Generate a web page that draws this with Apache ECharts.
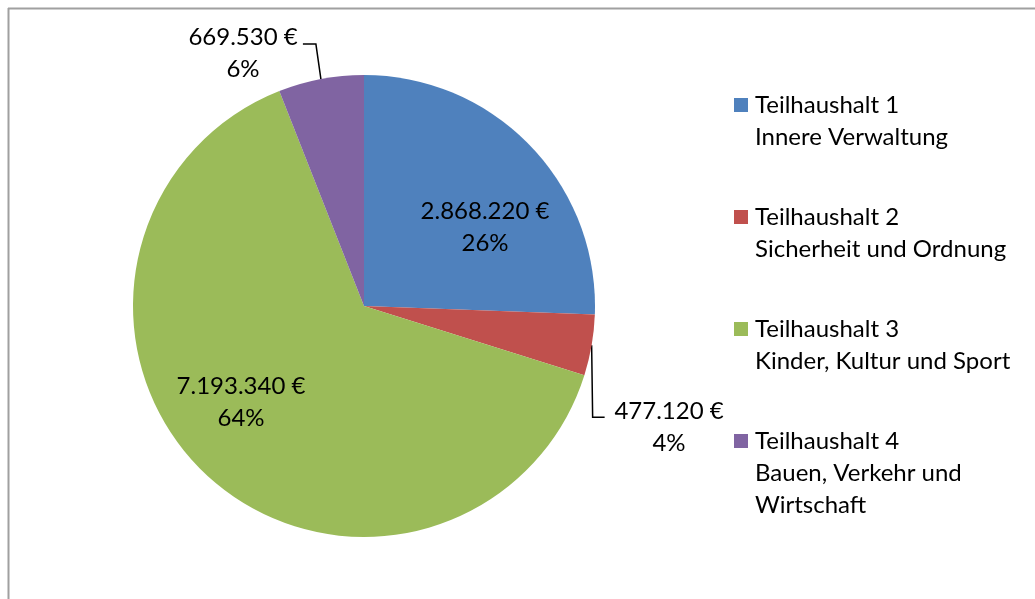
<!DOCTYPE html>
<html>
<head>
<meta charset="utf-8">
<script src="https://cdn.jsdelivr.net/npm/echarts@6/dist/echarts.min.js"></script>
<style>
html,body{margin:0;padding:0;background:#fff;}
#c{width:1035px;height:599px;}
</style>
</head>
<body>
<div id="c"></div>
<script>
const categories = ['Teilhaushalt 1', 'Teilhaushalt 2', 'Teilhaushalt 3', 'Teilhaushalt 4'];
const subtitles = [['Innere Verwaltung'], ['Sicherheit und Ordnung'], ['Kinder, Kultur und Sport'], ['Bauen, Verkehr und', 'Wirtschaft']];
const values = [2868220, 477120, 7193340, 669530];
const colors = ['#4F81BD', '#C0504D', '#9BBB59', '#8064A2'];

const FONT = 'Lato';
const FS = 24;

function fmtEuro(v) {
  return String(v).replace(/\B(?=(\d{3})+(?!\d))/g, '.') + ' €';
}

// label placement (centers of label blocks)
const labelPos = [[485, 227], [669, 427], [241, 402], [243, 53]];
const outside = [false, true, false, true];

const rich = {
  t: { fontFamily: FONT, fontSize: FS, color: '#000', lineHeight: 32 },
  ind: { width: 21, height: 14 },
  gap: { width: 7, height: 14 }
};
colors.forEach((c, i) => { rich['sq' + i] = { width: 14, height: 14, backgroundColor: c }; });

const chart = echarts.init(document.getElementById('c'), null, { renderer: 'canvas' });
chart.setOption({
  animation: false,
  backgroundColor: '#fff',
  color: colors,
  graphic: [
    { type: 'line', shape: { x1: 8, y1: 8.5, x2: 1035, y2: 8.5 }, style: { stroke: '#a0a0a0', lineWidth: 2 }, silent: true },
    { type: 'line', shape: { x1: 8.5, y1: 8, x2: 8.5, y2: 599 }, style: { stroke: '#a0a0a0', lineWidth: 2 }, silent: true }
  ],
  legend: {
    orient: 'vertical',
    left: 724,
    top: 84,
    icon: 'none',
    itemWidth: 0,
    itemHeight: 14,
    itemGap: 48,
    selectedMode: false,
    data: categories,
    formatter: function (name) {
      const i = categories.indexOf(name);
      let s = '{sq' + i + '|}{gap|}{t|' + name + '}';
      subtitles[i].forEach(l => { s += '\n{ind|}{t|' + l + '}'; });
      return s;
    },
    textStyle: { rich: rich, fontFamily: FONT, fontSize: FS, color: '#000', lineHeight: 32 }
  },
  series: [{
    type: 'pie',
    center: [364, 306],
    radius: 231,
    startAngle: 90,
    clockwise: true,
    avoidLabelOverlap: false,
    emphasis: { disabled: true },
    itemStyle: { borderWidth: 0 },
    data: categories.map((n, i) => ({
      name: n,
      value: values[i],
      label: { position: outside[i] ? 'outside' : 'inside' },
      labelLine: { show: outside[i] }
    })),
    label: {
      show: true,
      fontFamily: FONT,
      fontSize: FS,
      color: '#000',
      lineHeight: 32,
      align: 'center',
      formatter: p => fmtEuro(p.value) + '\n' + Math.round(p.percent) + '%'
    },
    labelLine: {
      show: true,
      length: 30,
      length2: 12,
      lineStyle: { color: '#000', width: 1.5 }
    },
    labelLayout: function (params) {
      const i = params.dataIndex;
      const res = { x: labelPos[i][0], y: labelPos[i][1], align: 'center', verticalAlign: 'middle' };
      if (outside[i] && params.labelLinePoints) {
        const p0 = params.labelLinePoints[0];
        if (i === 3) {
          const p1 = [p0[0] - 5, p0[1] - 35];
          res.labelLinePoints = [p0, p1, [p1[0] - 13, p1[1]]];
        } else {
          const p1 = [p0[0] + 1, p0[1] + 72];
          res.labelLinePoints = [p0, p1, [p1[0] + 12, p1[1]]];
        }
      }
      return res;
    }
  }]
});
</script>
</body>
</html>
